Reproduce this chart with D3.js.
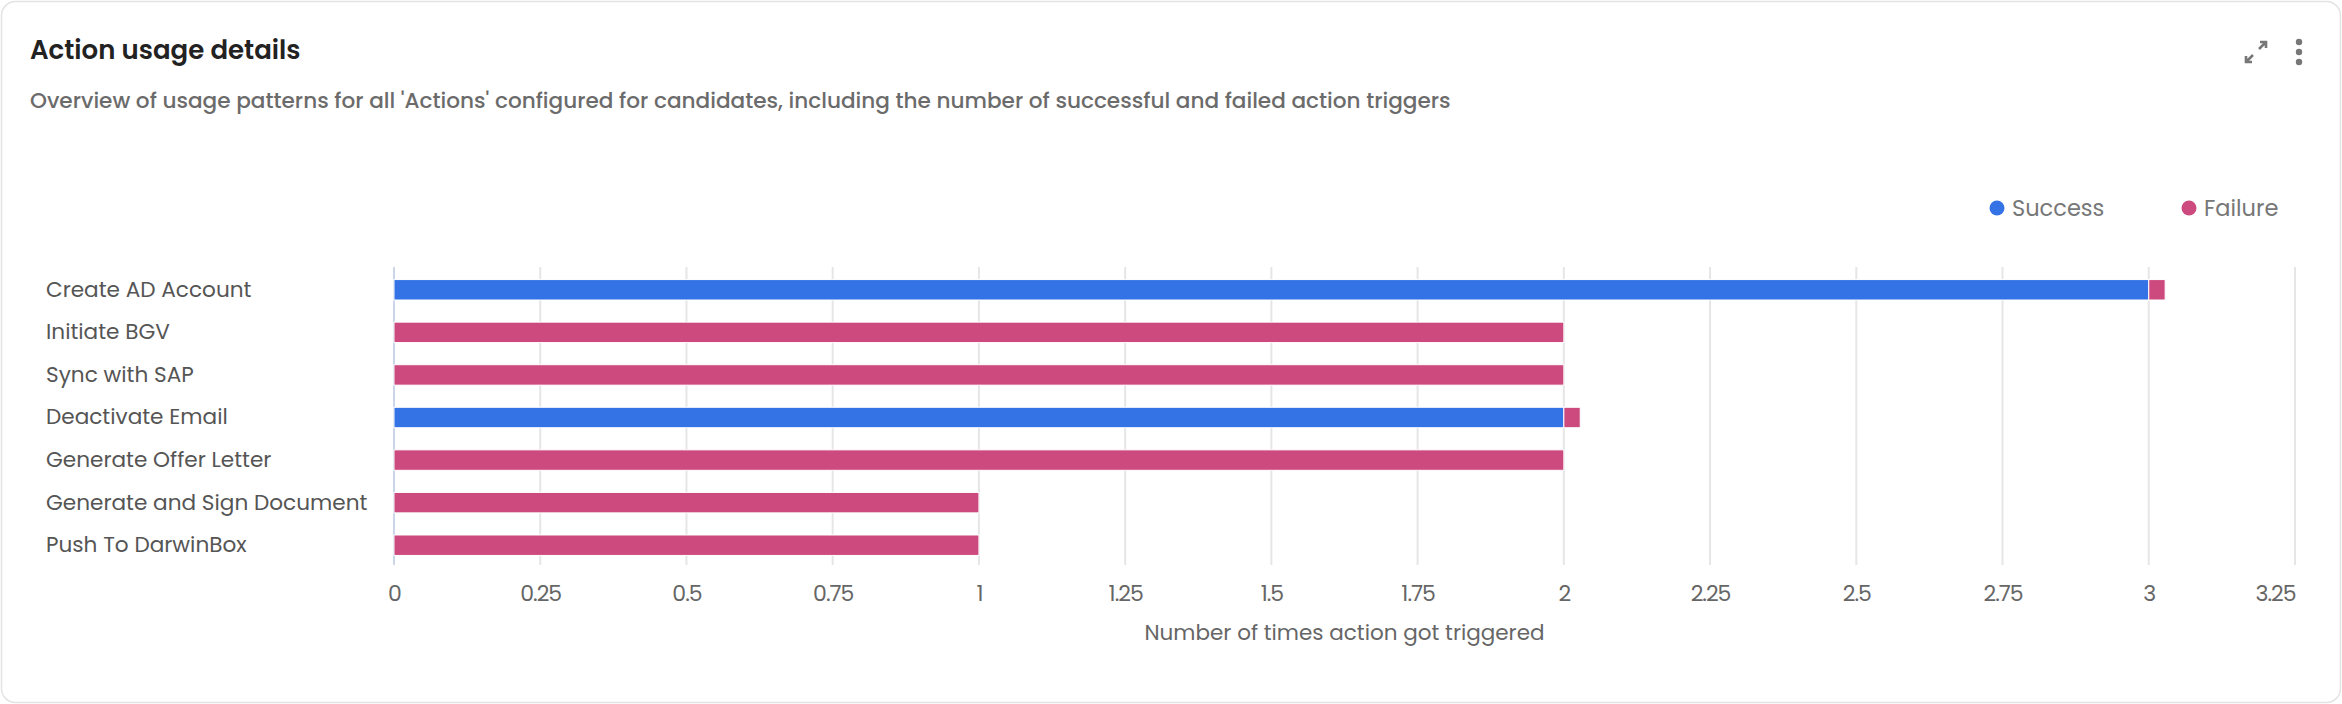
<!DOCTYPE html>
<html>
<head>
<meta charset="utf-8">
<script src="https://cdn.jsdelivr.net/npm/d3@7"></script>
<style>
  body { margin: 0; background: #fff; }
  text { font-family: Poppins, Inter, "Noto Sans", sans-serif; }
</style>
</head>
<body>
<script>
var categories = ["Create AD Account", "Initiate BGV", "Sync with SAP", "Deactivate Email",
                  "Generate Offer Letter", "Generate and Sign Document", "Push To DarwinBox"];
var success = [3, 0, 0, 2, 0, 0, 0];
var failure = [0.028, 2, 2, 0.028, 2, 1, 1];
var seriesNames = ["Success", "Failure"];
var xTicks = [0, 0.25, 0.5, 0.75, 1, 1.25, 1.5, 1.75, 2, 2.25, 2.5, 2.75, 3, 3.25];

var colors = { Success: "#3473e5", Failure: "#cc4a7e" };

var W = 2342, H = 704;
var plot = { left: 394, right: 2295, top: 267, bottom: 565 };

var svg = d3.select("body").append("svg")
    .attr("width", W)
    .attr("height", H);

// card
svg.append("rect")
    .attr("x", 1.5).attr("y", 1.5)
    .attr("width", W - 3).attr("height", H - 3)
    .attr("rx", 14)
    .attr("fill", "#fff")
    .attr("stroke", "#e3e3e3")
    .attr("stroke-width", 1.5);

svg.append("text")
    .attr("x", 30).attr("y", 59)
    .attr("font-size", 26).attr("font-weight", 600)
    .attr("fill", "#222")
    .text("Action usage details");

svg.append("text")
    .attr("x", 30).attr("y", 108)
    .attr("font-size", 21.6).attr("font-weight", 500)
    .attr("fill", "#6b6b6b")
    .text("Overview of usage patterns for all 'Actions' configured for candidates, including the number of successful and failed action triggers");

// expand icon
var icon = svg.append("g").attr("stroke", "#777").attr("fill", "none").attr("stroke-width", 2.6);
icon.append("path").attr("d", "M2259,49 L2266,42 M2260,42 L2266,42 L2266,48");
icon.append("path").attr("d", "M2253,55 L2246,62 M2246,56 L2246,62 L2252,62");
// kebab
svg.selectAll(".dot")
    .data([42, 52, 62])
    .enter().append("circle")
    .attr("cx", 2299).attr("cy", function(d) { return d; })
    .attr("r", 3.2).attr("fill", "#777");

// scales
var x = d3.scaleLinear()
    .domain([0, 3.25])
    .range([plot.left, plot.right]);
var y = d3.scaleBand()
    .domain(categories)
    .range([plot.top + 1.5, plot.bottom + 1.5])
    .paddingInner(0.52)
    .paddingOuter(0.26);

// grid lines
svg.append("g")
    .selectAll("line")
    .data(xTicks.slice(1))
    .enter().append("line")
    .attr("x1", function(d) { return x(d); })
    .attr("x2", function(d) { return x(d); })
    .attr("y1", plot.top).attr("y2", plot.bottom)
    .attr("stroke", "#e6e6e6").attr("stroke-width", 2);

// y axis line
svg.append("line")
    .attr("x1", x(0)).attr("x2", x(0))
    .attr("y1", plot.top).attr("y2", plot.bottom)
    .attr("stroke", "#ccd6eb").attr("stroke-width", 2);

// stacked bars
var rows = categories.map(function(c, i) {
  return { name: c, Success: success[i], Failure: failure[i] };
});
var stacked = d3.stack().keys(seriesNames)(rows);

svg.append("g")
  .selectAll("g")
  .data(stacked)
  .enter().append("g")
    .attr("fill", function(s) { return colors[s.key]; })
  .selectAll("rect")
  .data(function(s) { return s.filter(function(d) { return d[1] - d[0] > 0; }); })
  .enter().append("rect")
    .attr("x", function(d) { return x(d[0]); })
    .attr("y", function(d) { return y(d.data.name); })
    .attr("width", function(d) { return x(d[1]) - x(d[0]); })
    .attr("height", y.bandwidth())
    .attr("stroke", "#fff").attr("stroke-width", 1);

// category labels
var yAxis = svg.append("g")
    .attr("transform", "translate(" + plot.left + ",0)")
    .call(d3.axisLeft(y).tickSize(0));
yAxis.select(".domain").remove();
yAxis.selectAll("text")
    .attr("x", 46 - plot.left)
    .attr("text-anchor", "start")
    .attr("font-size", 21.6)
    .attr("font-family", "Poppins, Inter, sans-serif")
    .attr("fill", "#555");

// x axis labels
var xAxis = svg.append("g")
    .attr("transform", "translate(0," + plot.bottom + ")")
    .call(d3.axisBottom(x).tickValues(xTicks).tickSize(0).tickPadding(20)
      .tickFormat(function(d) { return String(d); }));
xAxis.select(".domain").remove();
xAxis.selectAll("text")
    .attr("font-size", 22)
    .attr("font-family", "Roboto, sans-serif")
    .attr("letter-spacing", -1)
    .attr("fill", "#666")
    .attr("text-anchor", function(d) { return d === xTicks[xTicks.length - 1] ? "end" : "middle"; });

svg.append("text")
    .attr("x", (plot.left + plot.right) / 2).attr("y", 640)
    .attr("text-anchor", "middle")
    .attr("font-size", 21.5)
    .attr("fill", "#666")
    .text("Number of times action got triggered");

// legend
var legend = svg.append("g")
  .selectAll("g")
  .data(seriesNames)
  .enter().append("g")
    .attr("transform", function(d, i) { return "translate(" + [1997, 2189][i] + ",208)"; });
legend.append("circle").attr("r", 7.5).attr("fill", function(d) { return colors[d]; });
legend.append("text")
    .attr("x", 15).attr("dy", "0.35em")
    .attr("font-size", 22.5)
    .attr("fill", "#777")
    .text(function(d) { return d; });
</script>
</body>
</html>
